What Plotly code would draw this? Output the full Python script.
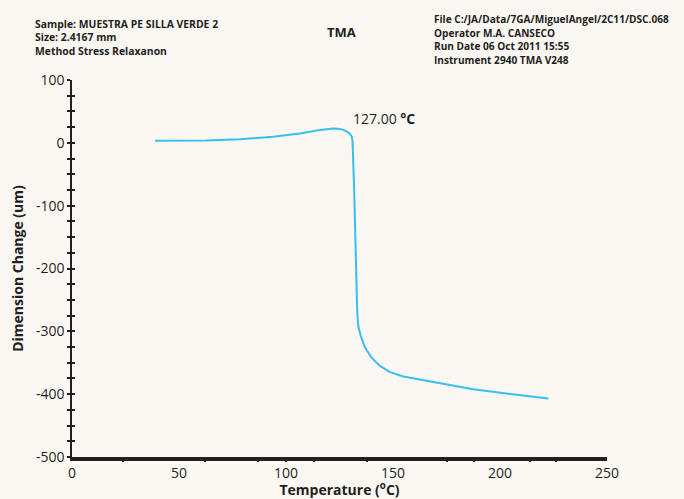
import plotly.graph_objects as go

temperature = [38.8, 50, 62.9, 78.5, 94, 106.5, 115.9, 122.1, 125.2, 127.6, 129.6, 130.7, 131.1,
               131.8, 132.4, 132.9, 133.0, 133.3, 133.8, 134.9, 136.9, 140.0, 143.9,
               148.6, 154.8, 161.0, 172.0, 187.5, 203.0, 222.6]
dimension = [3.2, 3.4, 3.7, 5.8, 9.5, 14.8, 20.6, 22.7, 22.2, 19.5, 15.4, 10, 2,
             -69, -149, -217, -260, -270, -292, -307, -326, -342, -355,
             -365, -372, -376, -383, -392, -399, -407]

x_ticks = [0, 50, 100, 150, 200, 250]
x_minor_marks = [24, 62, 87, 100, 113, 138, 175, 188, 214, 226]
y_ticks = [100, 0, -100, -200, -300, -400, -500]
y_tick_labels = ["100", "0", "-100", "-200", "-300", "-400", "-500"]

header_left = ["Sample: MUESTRA PE SILLA VERDE 2", "Size: 2.4167 mm", "Method Stress Relaxanon"]
header_right = ["File C:/JA/Data/7GA/MiguelAngel/2C11/DSC.068", "Operator M.A. CANSECO",
                "Run Date 06 Oct 2011 15:55", "Instrument 2940 TMA V248"]
title_text = "TMA"
peak_label = "127.00 <b>°C</b>"
peak_pos = (146, 38)

dark = "#231f20"
bg = "#fbf8f4"
font_family = "Open Sans"

ML, MR, MT, MB = 72, 77, 80, 42

fig = go.Figure()
fig.add_trace(go.Scatter(x=temperature, y=dimension, mode="lines",
                         line=dict(color="#38bff0", width=2), showlegend=False))
fig.add_trace(go.Scatter(x=[0], y=[0], xaxis="x2", yaxis="y2", mode="markers",
                         marker=dict(opacity=0), showlegend=False, hoverinfo="skip"))

fig.update_layout(
    width=684, height=499,
    paper_bgcolor=bg, plot_bgcolor=bg,
    margin=dict(l=ML, r=MR, t=MT, b=MB),
    font=dict(family=font_family, color=dark),
    xaxis=dict(range=[0, 250], tickvals=x_ticks, ticks="", showgrid=False, zeroline=False,
               automargin=False,
               showline=True, linewidth=4, linecolor=dark,
               tickfont=dict(size=14, color=dark),
               title=dict(text="<b>Temperature (<sup>o</sup>C)</b>", font=dict(size=14, color=dark), standoff=0)),
    yaxis=dict(range=[-500, 100], tickvals=y_ticks, ticktext=y_tick_labels,
               ticks="outside", ticklen=3, tickwidth=1.5, automargin=False,
               tickcolor=dark, showgrid=False, zeroline=False,
               showline=True, linewidth=1.5, linecolor=dark,
               minor=dict(dtick=25, ticks="outside", ticklen=3, tickwidth=1.5, tickcolor=dark),
               tickfont=dict(size=14, color=dark),
               title=dict(text="<b>Dimension Change (um)</b>", font=dict(size=14, color=dark), standoff=9)),
    xaxis2=dict(range=[0, 250], overlaying="x", tickvals=x_minor_marks, ticks="outside",
                ticklen=4, tickwidth=1.5, tickcolor=dark, showticklabels=False, automargin=False,
                showgrid=False, zeroline=False, showline=False),
    yaxis2=dict(range=[-500, 100], overlaying="y", tickvals=y_ticks, ticks="inside",
                ticklen=3, tickwidth=1.5, tickcolor=dark, showticklabels=False, automargin=False,
                minor=dict(dtick=25, ticks="inside", ticklen=3, tickwidth=1.5, tickcolor=dark),
                showgrid=False, zeroline=False, showline=False),
)

plot_w = 684 - ML - MR
plot_h = 499 - MT - MB

def px_to_paper(px, py):
    return (px - ML) / plot_w, ((499 - py) - MB) / plot_h

annotations = []
for i, t in enumerate(header_left):
    x, y = px_to_paper(33, 24 + 13.5 * i)
    annotations.append(dict(text="<b>" + t + "</b>", x=x, y=y, xref="paper", yref="paper",
                            showarrow=False, xanchor="left", yanchor="middle",
                            font=dict(size=10.4, color=dark)))
for i, t in enumerate(header_right):
    x, y = px_to_paper(432, 19 + 13.7 * i)
    annotations.append(dict(text="<b>" + t + "</b>", x=x, y=y, xref="paper", yref="paper",
                            showarrow=False, xanchor="left", yanchor="middle",
                            font=dict(size=10.1, color=dark)))
x, y = px_to_paper(341, 32)
annotations.append(dict(text="<b>" + title_text + "</b>", x=x, y=y, xref="paper", yref="paper",
                        showarrow=False, xanchor="center", yanchor="middle",
                        font=dict(size=13, color=dark)))
annotations.append(dict(text=peak_label, x=peak_pos[0], y=peak_pos[1], xref="x", yref="y",
                        showarrow=False, xanchor="center", yanchor="middle",
                        font=dict(size=14, color=dark)))
fig.update_layout(annotations=annotations)

fig.write_html("out.html", config={"displayModeBar": False},
               post_script="document.body.style.margin='0px';document.body.style.overflow='hidden';")
